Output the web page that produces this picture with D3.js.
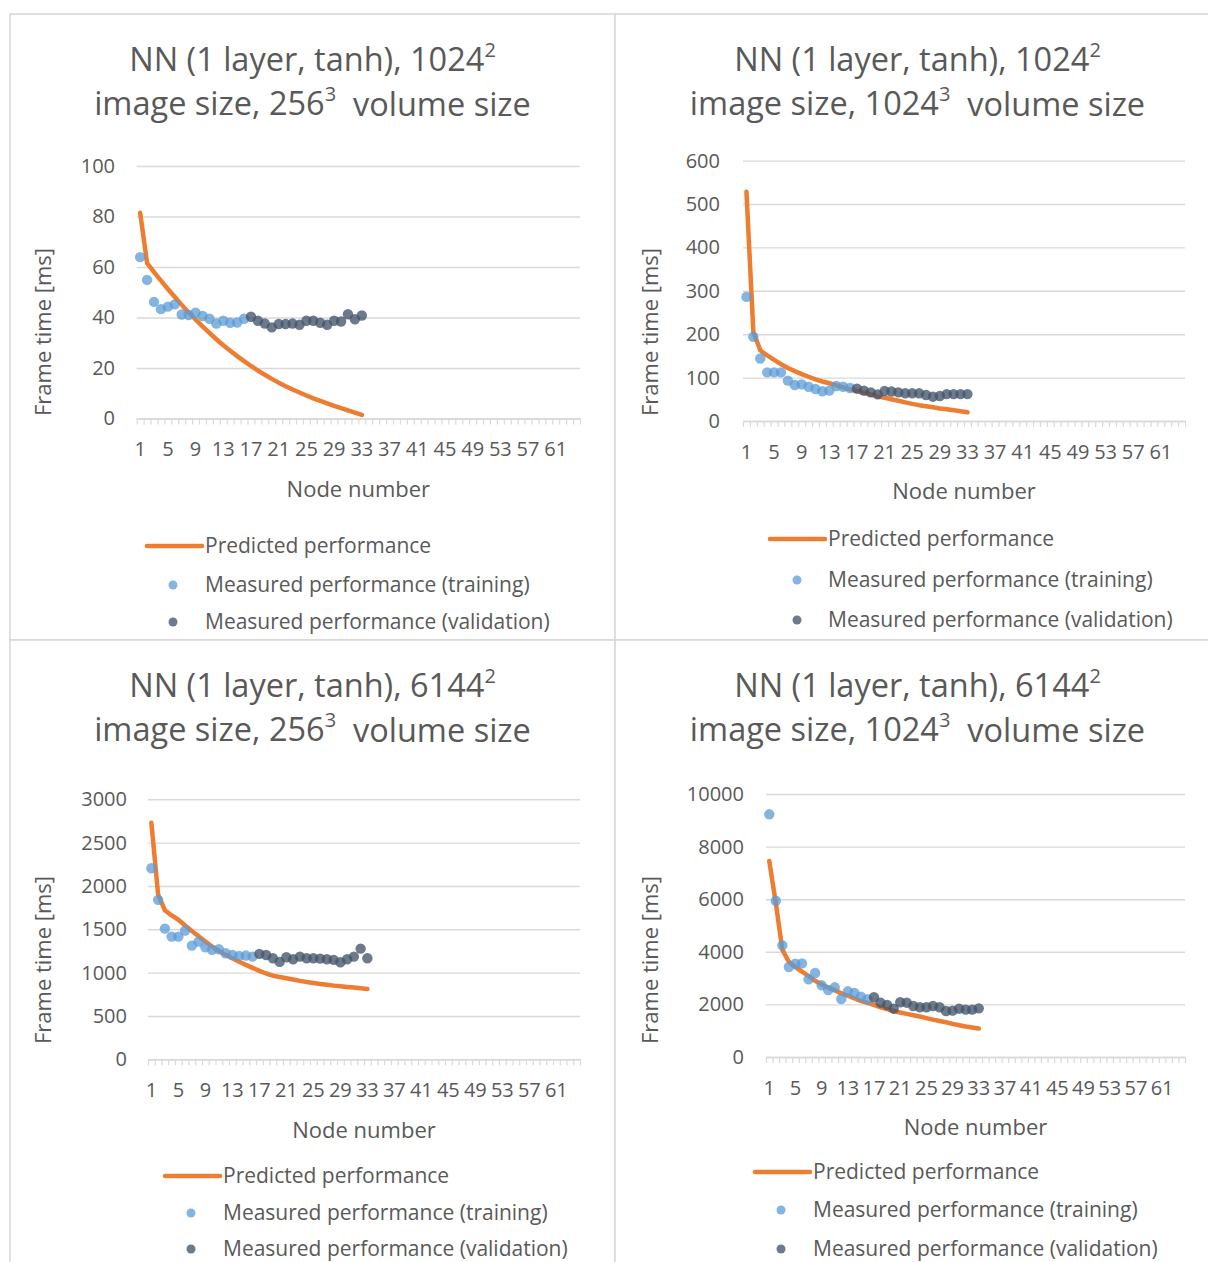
<!DOCTYPE html>
<html>
<head>
<meta charset="utf-8">
<script src="https://cdn.jsdelivr.net/npm/d3@7"></script>
<style>
  html, body { margin: 0; padding: 0; background: #fff; }
  svg { display: block; }
  text { font-family: 'Open Sans', sans-serif; fill: #595959; }
</style>
</head>
<body>
<svg id="chart" width="1208" height="1262"></svg>
<script>
// ---------------- DATA ----------------
const categories = d3.range(1, 65);                 // node numbers on the category axis
const xTickLabels = d3.range(1, 62, 4);             // 1, 5, 9, ... 61
const trainingNodes = d3.range(1, 17);              // nodes 1..16
const validationNodes = d3.range(17, 34);           // nodes 17..33
const predictedNodes = d3.range(1, 34);             // nodes 1..33

const seriesNames = ["Predicted performance", "Measured performance (training)", "Measured performance (validation)"];
const yAxisTitle = "Frame time [ms]";
const xAxisTitle = "Node number";

const titleImage = ["1024", "1024", "6144", "6144"];
const titleVolume = ["256", "1024", "256", "1024"];

const yTicks1 = [0, 20, 40, 60, 80, 100];
const yTicks2 = [0, 100, 200, 300, 400, 500, 600];
const yTicks3 = [0, 500, 1000, 1500, 2000, 2500, 3000];
const yTicks4 = [0, 2000, 4000, 6000, 8000, 10000];

const predicted1 = [81.5,61.5,58.0,54.6,51.3,48.1,45.0,42.0,39.2,36.5,33.9,31.4,29.0,26.8,24.7,22.7,20.8,19.0,17.3,15.7,14.2,12.8,11.5,10.3,9.1,8.0,7.0,6.0,5.0,4.1,3.2,2.3,1.4];
const training1 = [63.9,54.9,46.2,43.3,44.3,45.2,41.2,41.0,41.9,40.6,39.5,37.6,38.7,37.9,38.0,39.5];
const validation1 = [40.3,38.7,37.6,36.1,37.4,37.4,37.6,37.1,38.7,38.7,37.9,37.1,38.7,38.4,41.3,39.3,40.8];

const predicted2 = [528,205,163,151,141,131,122,115,108,102,96,91,87,82,77.5,73,69,65,61,57,53.5,50,46.5,43,39.5,36.5,34,31.5,29,27,25,22.5,20];
const training2 = [286,194,144,112,112,112,93,83,84.5,79,73.7,68.4,70,80.6,79,76];
const validation2 = [74.5,70,66,61.4,69,68,66,63.8,63.8,63.8,60,56,57.6,62,62,62,62];

const predicted3 = [2730,1900,1720,1660,1610,1545,1480,1420,1360,1300,1250,1205,1165,1125,1090,1055,1020,990,965,950,935,920,905,892,880,869,859,850,842,835,828,820,812];
const training3 = [2205,1840,1508,1416,1416,1485,1312,1358,1293,1262,1270,1224,1204,1193,1197,1185];
const validation3 = [1216,1204,1166,1124,1178,1155,1185,1166,1166,1162,1155,1147,1120,1155,1185,1277,1166];

const predicted4 = [7450,5850,4070,3620,3420,3250,3080,2900,2760,2640,2540,2420,2330,2230,2130,2060,1980,1890,1820,1750,1690,1640,1590,1540,1480,1420,1370,1320,1260,1210,1160,1120,1080];
const training4 = [9228,5943,4247,3422,3548,3561,2954,3194,2726,2548,2650,2205,2498,2433,2293,2194];
const validation4 = [2270,2065,1977,1837,2080,2065,1939,1890,1890,1939,1890,1749,1762,1837,1800,1800,1850];

// ---------------- LAYOUT (positions only) ----------------
const layouts = [
  { box:[10,14,605,626], cx:312.5, px:[136.7,580], py:[418.5,166], tickRight:115, yTitle:[43,332], xLabY:449, xTitleY:489,
    leg:{ line:[147,202], marker:173, text:205, rows:[546,585,622] } },
  { box:[615,14,605,626], cx:917.5, px:[743,1185], py:[421,160.6], tickRight:720, yTitle:[650,332], xLabY:452, xTitleY:491,
    leg:{ line:[770,825], marker:797, text:828, rows:[539,580,620] } },
  { box:[10,640,605,626], cx:312.5, px:[148,580], py:[1059.3,799.3], tickRight:127, yTitle:[43,960], xLabY:1090, xTitleY:1130,
    leg:{ line:[165,220], marker:191, text:223, rows:[1176,1213,1249] } },
  { box:[615,640,605,626], cx:917.5, px:[766,1185], py:[1057,794], tickRight:744, yTitle:[650,960], xLabY:1088, xTitleY:1127,
    leg:{ line:[755,810], marker:781, text:813, rows:[1172,1210,1249] } }
];
const titleY = [46, 90];

const panels = [
  { yTicks:yTicks1, predicted:predicted1, training:training1, validation:validation1 },
  { yTicks:yTicks2, predicted:predicted2, training:training2, validation:validation2 },
  { yTicks:yTicks3, predicted:predicted3, training:training3, validation:validation3 },
  { yTicks:yTicks4, predicted:predicted4, training:training4, validation:validation4 }
];

const COL = { grid:"#d9d9d9", orange:"#ED7D31", train:"#5B9BD5", valid:"#44546A", text:"#595959" };

const svg = d3.select("#chart");
svg.append("rect").attr("width",1208).attr("height",1262).attr("fill","#fff");

panels.forEach((p, i) => {
  const L = layouts[i];
  const g = svg.append("g");

  // panel border
  g.append("rect").attr("x",L.box[0]).attr("y",L.box[1]).attr("width",L.box[2]).attr("height",L.box[3])
    .attr("fill","#fff").attr("stroke",COL.grid).attr("stroke-width",1.6);

  // title
  const t = g.append("text").attr("text-anchor","middle").style("font-size","32.5px");
  const l1 = t.append("tspan").attr("x",L.cx).attr("y",L.box[1]+titleY[0]).attr("dy","0.35em");
  l1.append("tspan").text("NN (1 layer, tanh), " + titleImage[i]);
  l1.append("tspan").attr("dy","-0.7em").style("font-size","20px").text("2");
  const l2 = t.append("tspan").attr("x",L.cx).attr("y",L.box[1]+titleY[1]).attr("dy","0.35em");
  l2.append("tspan").text("image size, " + titleVolume[i]);
  l2.append("tspan").attr("dy","-0.7em").style("font-size","20px").text("3");
  l2.append("tspan").attr("dy","0.45em").text("\u00a0\u00a0volume size");

  // scales
  const x = d3.scaleBand().domain(categories).range(L.px).padding(0);
  const xComb = d3.scaleLinear().domain([0, categories.length]).range(L.px);
  const y = d3.scaleLinear().domain(d3.extent(p.yTicks)).range(L.py);
  const cx = d => x(d) + x.bandwidth()/2;

  // gridlines
  const grid = g.append("g").attr("transform",`translate(${L.px[0]},0)`)
    .call(d3.axisLeft(y).tickValues(p.yTicks).tickSize(-(L.px[1]-L.px[0])).tickFormat(""));
  grid.select(".domain").remove();
  grid.selectAll("line").attr("stroke",COL.grid).attr("stroke-width",1.4);

  // y tick labels
  const ya = g.append("g").attr("transform",`translate(${L.px[0]},0)`)
    .call(d3.axisLeft(y).tickValues(p.yTicks).tickFormat(d3.format("d")).tickSize(0).tickPadding(L.px[0]-L.tickRight));
  ya.select(".domain").remove();
  ya.selectAll("text").style("font-size","20px").attr("fill",COL.text).style("font-family","'Open Sans', sans-serif");

  // x axis comb
  const comb = g.append("g").attr("transform",`translate(0,${L.py[0]})`)
    .call(d3.axisBottom(xComb).tickValues(d3.range(categories.length+1)).tickSize(6).tickSizeOuter(0).tickFormat(""));
  comb.selectAll("line").attr("stroke",COL.grid).attr("stroke-width",1.2);
  comb.select(".domain").attr("stroke",COL.grid).attr("stroke-width",1.4);

  // x tick labels
  const xa = g.append("g").attr("transform",`translate(0,${L.py[0]})`)
    .call(d3.axisBottom(x).tickValues(xTickLabels).tickSize(0).tickPadding(L.xLabY - L.py[0] - 7));
  xa.select(".domain").remove();
  xa.selectAll("text").style("font-size","20px").attr("fill",COL.text).style("font-family","'Open Sans', sans-serif");

  // axis titles
  g.append("text").attr("x",(L.px[0]+L.px[1])/2).attr("y",L.xTitleY).attr("dy","0.35em")
    .attr("text-anchor","middle").style("font-size","22px").text(xAxisTitle);
  g.append("text").attr("transform",`translate(${L.yTitle[0]},${L.yTitle[1]}) rotate(-90)`).attr("dy","0.35em")
    .attr("text-anchor","middle").style("font-size","22px").text(yAxisTitle);

  // predicted line
  const line = d3.line().x(d => cx(d[0])).y(d => y(d[1]));
  g.append("path").datum(predictedNodes.map((n,k)=>[n,p.predicted[k]]))
    .attr("d",line).attr("fill","none").attr("stroke",COL.orange).attr("stroke-width",4.5)
    .attr("stroke-linecap","round").attr("stroke-linejoin","round");

  // measured points
  g.append("g").selectAll("circle").data(trainingNodes.map((n,k)=>[n,p.training[k]])).join("circle")
    .attr("cx",d=>cx(d[0])).attr("cy",d=>y(d[1])).attr("r",5.2).attr("fill",COL.train).attr("fill-opacity",0.75);
  g.append("g").selectAll("circle").data(validationNodes.map((n,k)=>[n,p.validation[k]])).join("circle")
    .attr("cx",d=>cx(d[0])).attr("cy",d=>y(d[1])).attr("r",5.2).attr("fill",COL.valid).attr("fill-opacity",0.78);

  // legend
  const lg = g.append("g");
  lg.append("line").attr("x1",L.leg.line[0]).attr("x2",L.leg.line[1]).attr("y1",L.leg.rows[0]).attr("y2",L.leg.rows[0])
    .attr("stroke",COL.orange).attr("stroke-width",4.5).attr("stroke-linecap","round");
  lg.append("circle").attr("cx",L.leg.marker).attr("cy",L.leg.rows[1]).attr("r",4.5).attr("fill",COL.train).attr("fill-opacity",0.75);
  lg.append("circle").attr("cx",L.leg.marker).attr("cy",L.leg.rows[2]).attr("r",4.5).attr("fill",COL.valid).attr("fill-opacity",0.78);
  seriesNames.forEach((s,k) => {
    lg.append("text").attr("x", k===0 ? L.leg.line[1]+3 : L.leg.text).attr("y",L.leg.rows[k]).attr("dy","0.35em")
      .style("font-size","21px").text(s);
  });
});
</script>
</body>
</html>
